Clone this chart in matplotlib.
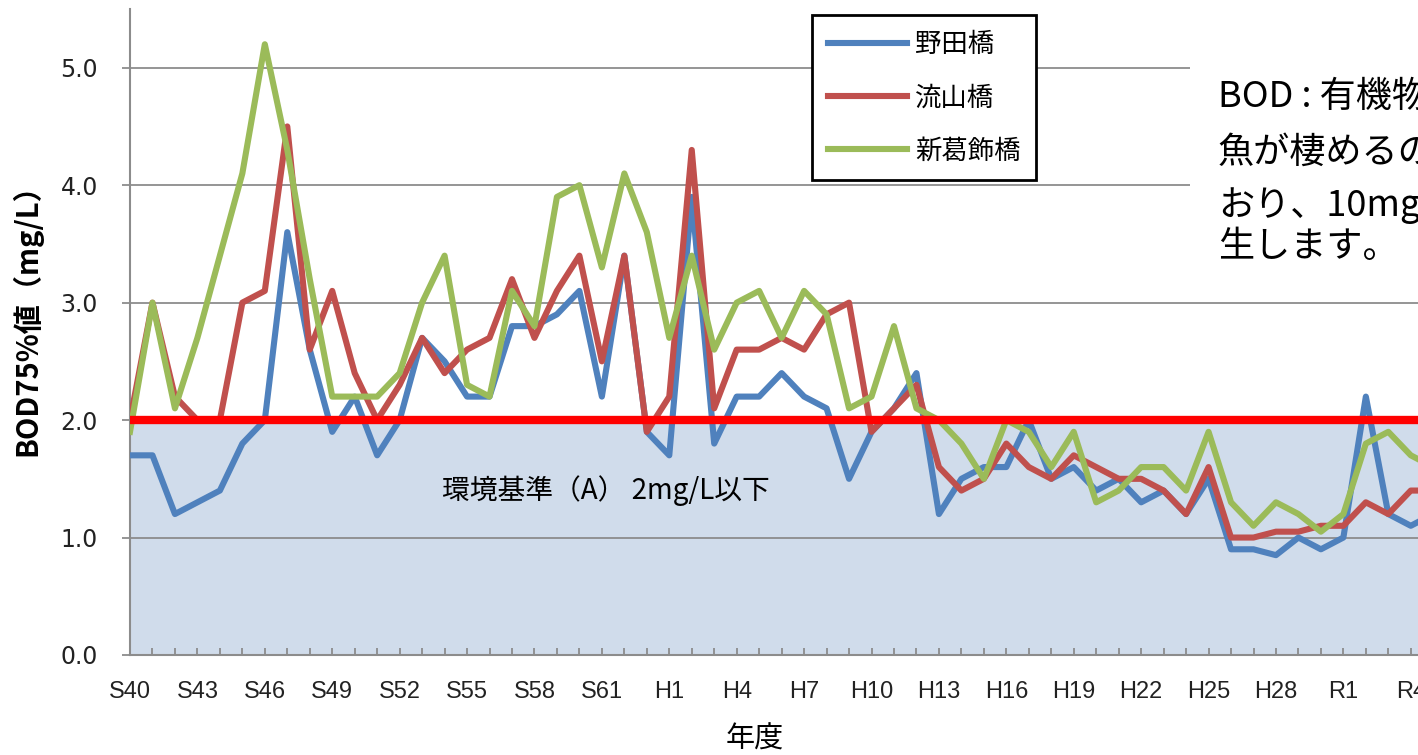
import matplotlib.pyplot as plt
from matplotlib.patches import Rectangle
from matplotlib.ticker import MultipleLocator


# ==========================
# Data (1965 = S40 ... 2023)
# ==========================

years = list(range(1965, 2024))

noda = [1.7, 1.7, 1.2, 1.3, 1.4, 1.8, 2.0, 3.6, 2.6, 1.9,
        2.2, 1.7, 2.0, 2.7, 2.5, 2.2, 2.2, 2.8, 2.8, 2.9,
        3.1, 2.2, 3.4, 1.9, 1.7, 3.9, 1.8, 2.2, 2.2, 2.4,
        2.2, 2.1, 1.5, 1.9, 2.1, 2.4, 1.2, 1.5, 1.6, 1.6,
        2.0, 1.5, 1.6, 1.4, 1.5, 1.3, 1.4, 1.2, 1.5, 0.9,
        0.9, 0.85, 1.0, 0.9, 1.0, 2.2, 1.2, 1.1, 1.2]

nagareyama = [2.0, 3.0, 2.2, 2.0, 2.0, 3.0, 3.1, 4.5, 2.6, 3.1,
              2.4, 2.0, 2.3, 2.7, 2.4, 2.6, 2.7, 3.2, 2.7, 3.1,
              3.4, 2.5, 3.4, 1.9, 2.2, 4.3, 2.1, 2.6, 2.6, 2.7,
              2.6, 2.9, 3.0, 1.9, 2.1, 2.3, 1.6, 1.4, 1.5, 1.8,
              1.6, 1.5, 1.7, 1.6, 1.5, 1.5, 1.4, 1.2, 1.6, 1.0,
              1.0, 1.05, 1.05, 1.1, 1.1, 1.3, 1.2, 1.4, 1.4]

shinkatsushika = [1.9, 3.0, 2.1, 2.7, 3.4, 4.1, 5.2, 4.3, 3.2, 2.2,
                  2.2, 2.2, 2.4, 3.0, 3.4, 2.3, 2.2, 3.1, 2.8, 3.9,
                  4.0, 3.3, 4.1, 3.6, 2.7, 3.4, 2.6, 3.0, 3.1, 2.7,
                  3.1, 2.9, 2.1, 2.2, 2.8, 2.1, 2.0, 1.8, 1.5, 2.0,
                  1.9, 1.6, 1.9, 1.3, 1.4, 1.6, 1.6, 1.4, 1.9, 1.3,
                  1.1, 1.3, 1.2, 1.05, 1.2, 1.8, 1.9, 1.7, 1.6]

series_names = ["野田橋", "流山橋", "新葛飾橋"]
series_colors = ["#4F81BD", "#C0504D", "#9BBB59"]

tick_years = list(range(1965, 2024, 3))
tick_labels = ["S40", "S43", "S46", "S49", "S52", "S55", "S58", "S61",
               "H1", "H4", "H7", "H10", "H13", "H16", "H19", "H22",
               "H25", "H28", "R1", "R4"]

y_ticks = [0, 1, 2, 3, 4, 5]
y_tick_labels = ["0.0", "1.0", "2.0", "3.0", "4.0", "5.0"]

standard = 2.0
standard_text = "環境基準（A） 2mg/L以下"

note_lines = ["BOD : 有機物による水の汚れの指標です。",
              "魚が棲めるのは5mg/L以下と言われて",
              "おり、10mg/L以上になると悪臭が発",
              "生します。"]


# ==========================
# Figure
# ==========================

plt.rcParams["font.family"] = ["Noto Sans CJK JP", "DejaVu Sans"]

W, H = 1418, 755
fig = plt.figure(figsize=(W / 100, H / 100), dpi=100)

px_year = 22.47
x0 = 1965
x1 = 2023.5
ax_w = (x1 - x0) * px_year
ax = fig.add_axes([130 / W, 100 / H, ax_w / W, 646 / H])

ax.set_xlim(x0, x1)
ax.set_ylim(0, 5.5)

# shaded band below the standard
ax.axhspan(0, standard, color="#D0DCEB", zorder=0)

# gridlines
for v in y_ticks[1:]:
    ax.axhline(v, color="#8C8C8C", lw=1.3, zorder=1)

for vals, name, col in zip([noda, nagareyama, shinkatsushika],
                           series_names, series_colors):
    ax.plot(years, vals, color=col, lw=4.4, label=name, zorder=3,
            solid_joinstyle="round")

ax.axhline(standard, color="#FF0000", lw=6, zorder=4)

ax.text(1978.9, 1.40, standard_text, fontsize=20, ha="left",
        va="center", zorder=5)

# axes styling
for side in ["top", "right"]:
    ax.spines[side].set_visible(False)
for side in ["left", "bottom"]:
    ax.spines[side].set_color("#8C8C8C")
    ax.spines[side].set_linewidth(1.5)

ax.set_yticks(y_ticks)
ax.set_yticklabels(y_tick_labels, family="DejaVu Sans", fontsize=17,
                   color="#222222")
ax.tick_params(axis="y", direction="out", length=6, width=1.3,
               color="#8C8C8C", pad=17)

ax.set_xticks(tick_years)
ax.set_xticklabels(tick_labels, family="Liberation Sans", fontsize=17,
                   color="#222222")
ax.xaxis.set_minor_locator(MultipleLocator(1))
ax.tick_params(axis="x", which="both", direction="in", length=5,
               width=1.3, color="#8C8C8C", pad=19)

ax.set_ylabel("BOD75%値（mg/L）", fontsize=21, fontweight="bold")
ax.yaxis.set_label_coords(-88 / ax_w, 0.53)

fig.text(755 / W, 1 - 740 / H, "年度", fontsize=21, ha="center",
         va="center")

# legend
leg = ax.legend(loc="upper left", bbox_to_anchor=(812 / W, 1 - 15 / H),
                bbox_transform=fig.transFigure, borderaxespad=0,
                fontsize=19, frameon=True, fancybox=False,
                handlelength=3.0, handletextpad=0.3, labelspacing=1.0,
                borderpad=0.6)
leg.get_frame().set_edgecolor("black")
leg.get_frame().set_linewidth(2)
leg.get_frame().set_alpha(1)
leg.set_zorder(10)

# note box at the right
fig.add_artist(Rectangle((1190 / W, 1 - 280 / H), 300 / W, 225 / H,
                         transform=fig.transFigure, facecolor="white",
                         edgecolor="none", zorder=5))
note_y = [97, 152, 205, 247]
for txt, yy in zip(note_lines, note_y):
    fig.text(1218 / W, 1 - yy / H, txt, fontsize=26, ha="left",
             va="center", zorder=6)

fig.savefig("out.png", dpi=100)
